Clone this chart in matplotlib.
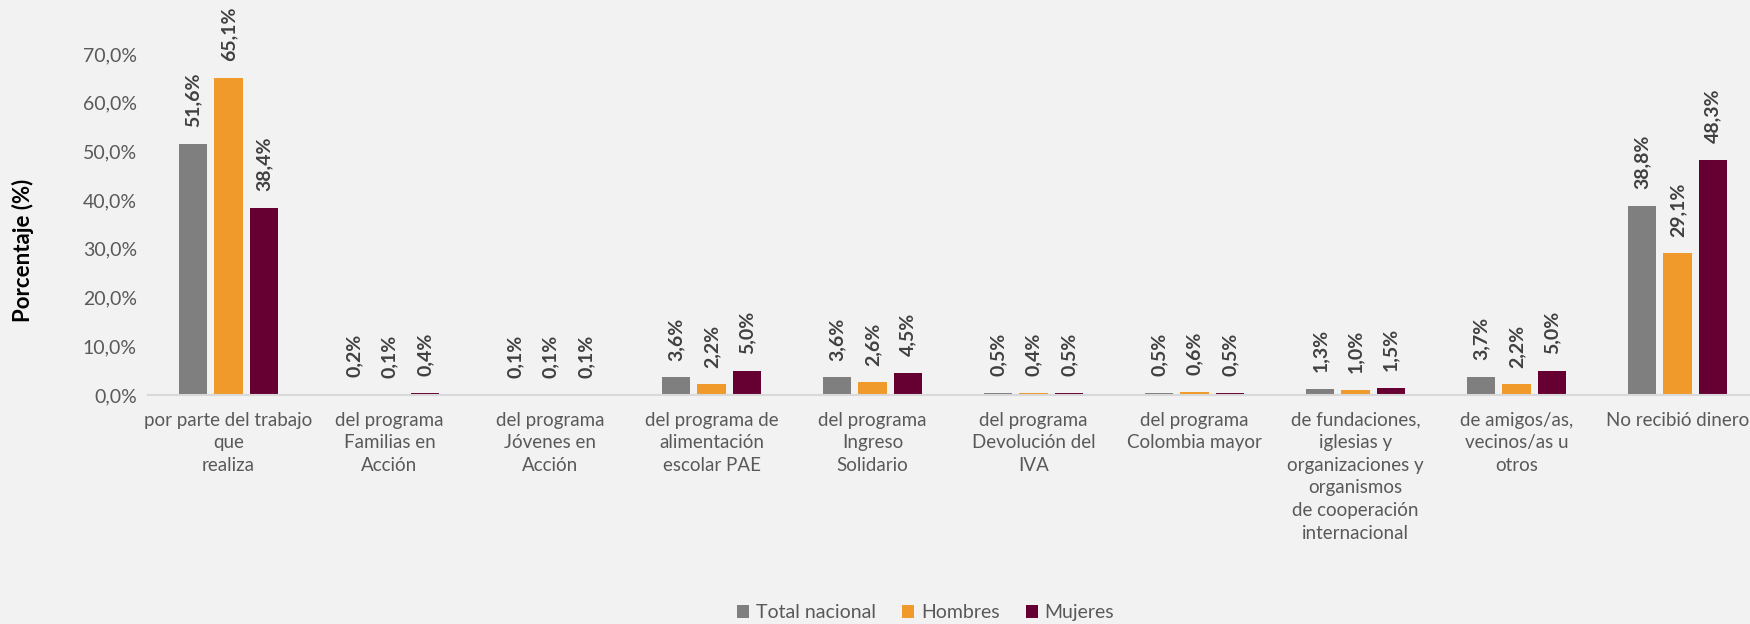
import numpy as np
import matplotlib
matplotlib.use('Agg')
import matplotlib.pyplot as plt
from matplotlib import font_manager

#---------------------- DATA
categorias = ["por parte del trabajo\nque\nrealiza",
              "del programa\nFamilias en\nAcción",
              "del programa\nJóvenes en\nAcción",
              "del programa de\nalimentación\nescolar PAE",
              "del programa\nIngreso\nSolidario",
              "del programa\nDevolución del\nIVA",
              "del programa\nColombia mayor",
              "de fundaciones,\niglesias y\norganizaciones y\norganismos\nde cooperación\ninternacional",
              "de amigos/as,\nvecinos/as u\notros",
              "No recibió dinero"]

total   = [51.6, 0.2, 0.1, 3.6, 3.6, 0.5, 0.5, 1.3, 3.7, 38.8]
hombres = [65.1, 0.1, 0.1, 2.2, 2.6, 0.4, 0.6, 1.0, 2.2, 29.1]
mujeres = [38.4, 0.4, 0.1, 5.0, 4.5, 0.5, 0.5, 1.5, 5.0, 48.3]

series  = ["Total nacional", "Hombres", "Mujeres"]
colores = ["#7f7f7f", "#ef9a2a", "#660033"]
yticks  = [0, 10, 20, 30, 40, 50, 60, 70]

#---------------------- FONT
names = set(f.name for f in font_manager.fontManager.ttflist)
if 'Liberation Sans Narrow' in names:
    fam = 'Liberation Sans Narrow'
else:
    fam = 'Lato'
plt.rcParams['font.family'] = [fam, 'DejaVu Sans']

##------------------------PLOTTING
bg = '#f2f2f2'
fig = plt.figure(figsize=(17.5, 6.24), dpi=100, facecolor=bg)
ax = fig.add_axes([148/1750., 1-395/624., (1758-148)/1750., (395-54)/624.])
ax.set_facecolor(bg)

x = np.arange(len(categorias))
w = 0.175
step = 0.22
datos = [total, hombres, mujeres]

for k in range(3):
    xs = x + (k-1)*step
    ax.bar(xs, datos[k], width=w, color=colores[k], label=series[k])
    for xi, v in zip(xs, datos[k]):
        ax.annotate(('%.1f%%' % v).replace('.', ','), (xi, v),
                    xytext=(0, 12), textcoords='offset points',
                    rotation=90, ha='center', va='bottom',
                    fontsize=14, fontweight='bold', color='#404040',
                    annotation_clip=False)

ax.set_xlim(-0.5, len(categorias)-0.5)
ax.set_ylim(0, 70)
ax.set_yticks(yticks)
ax.set_yticklabels(['%d,0%%' % t for t in yticks], fontsize=14, color='#595959')
ax.set_xticks(x)
ax.set_xticklabels(categorias, fontsize=13.5, color='#595959', linespacing=1.4)
ax.tick_params(axis='both', length=0)
ax.tick_params(axis='x', pad=12)
ax.tick_params(axis='y', pad=8)

for s in ['top', 'right', 'left']:
    ax.spines[s].set_visible(False)
ax.spines['bottom'].set_color('#d9d9d9')
ax.spines['bottom'].set_linewidth(1.5)

fig.text(23/1750., 1-250/624., 'Porcentaje (%)', rotation=90, ha='center', va='center',
         fontsize=16, fontweight='bold', color='black')

leg = fig.legend(loc='center', bbox_to_anchor=(0.529, 0.018), ncol=3, frameon=False,
                 fontsize=14, handlelength=0.62, handleheight=0.62, handletextpad=0.36,
                 columnspacing=1.33, labelcolor='#595959')

fig.savefig('out.png', dpi=100, facecolor=bg)
